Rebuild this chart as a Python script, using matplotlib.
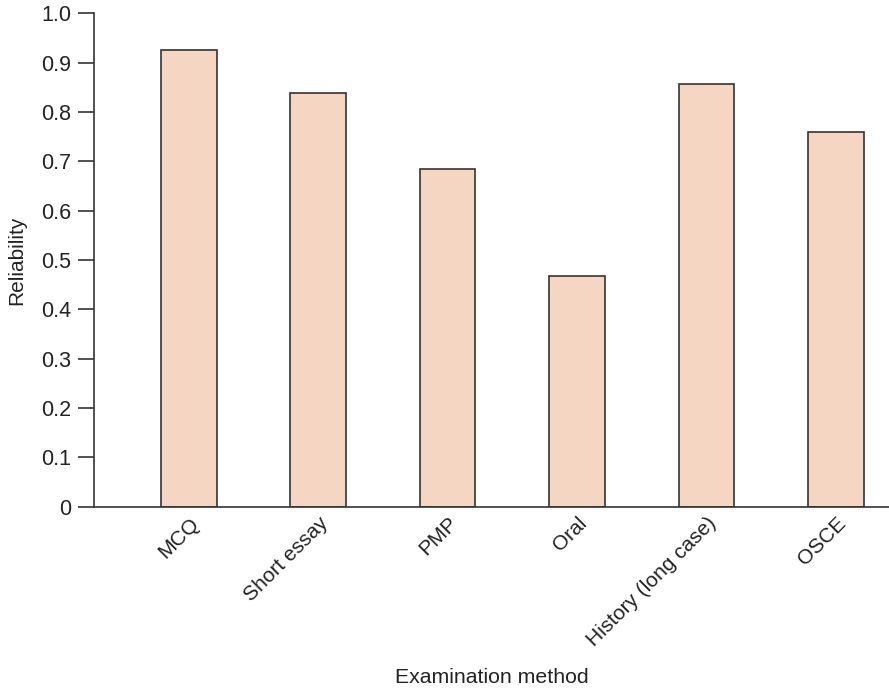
import matplotlib
matplotlib.use("Agg")
import matplotlib.pyplot as plt

categories = ["MCQ", "Short essay", "PMP", "Oral", "History (long case)", "OSCE"]
reliability = [0.926, 0.838, 0.685, 0.468, 0.857, 0.760]
yticks = [0, 0.1, 0.2, 0.3, 0.4, 0.5, 0.6, 0.7, 0.8, 0.9, 1.0]
ytick_labels = ["0", "0.1", "0.2", "0.3", "0.4", "0.5", "0.6", "0.7", "0.8", "0.9", "1.0"]

plt.rcParams['font.family'] = ['Liberation Sans', 'DejaVu Sans']

fig = plt.figure(figsize=(8.89, 6.88), dpi=100)
ax = fig.add_axes([0.1061, 0.2635, 0.8939, 0.7172])

x = list(range(len(categories)))
ax.bar(x, reliability, width=0.43, color='#F5D6C3', edgecolor='#333333', linewidth=1.2)

ax.set_xlim(-0.73, 5.41)
ax.set_ylim(0, 1.0)
ax.set_yticks(yticks)
ax.set_yticklabels(ytick_labels)
ax.set_xticks(x)
ax.set_xticklabels(categories, rotation=45, ha='right', va='top', rotation_mode='anchor')

for s in ['top', 'right']:
    ax.spines[s].set_visible(False)
for s in ['left', 'bottom']:
    ax.spines[s].set_color('#333333')
    ax.spines[s].set_linewidth(1.2)

ax.tick_params(axis='y', length=11.5, width=1.2, color='#333333', labelsize=15.5, pad=5, labelcolor='#222222')
ax.tick_params(axis='x', length=0, labelsize=15, pad=5, labelcolor='#222222')

ax.set_ylabel("Reliability", fontsize=15, color='#222222', labelpad=11)
ax.set_xlabel("Examination method", fontsize=15.3, color='#222222', labelpad=13)

fig.savefig("out.png", dpi=100)
